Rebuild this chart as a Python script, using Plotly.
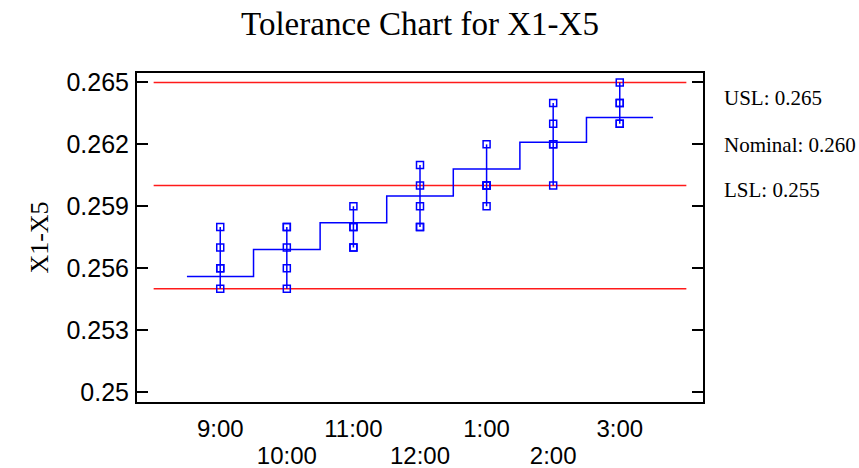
import plotly.graph_objects as go

times = ["9:00", "10:00", "11:00", "12:00", "1:00", "2:00", "3:00"]
X1 = [0.258, 0.258, 0.259, 0.261, 0.262, 0.264, 0.265]
X2 = [0.257, 0.258, 0.258, 0.260, 0.260, 0.263, 0.264]
X3 = [0.256, 0.257, 0.258, 0.259, 0.260, 0.262, 0.264]
X4 = [0.256, 0.256, 0.257, 0.258, 0.260, 0.262, 0.263]
X5 = [0.255, 0.255, 0.257, 0.258, 0.259, 0.260, 0.263]
trend = [0.2556, 0.2569, 0.2582, 0.2595, 0.2608, 0.2621, 0.2633]
USL, NOMINAL, LSL = 0.265, 0.260, 0.255
ytick_vals = [0.25, 0.253, 0.256, 0.259, 0.262, 0.265]
ytick_text = ["0.25", "0.253", "0.256", "0.259", "0.262", "0.265"]

BLUE = "#0000FF"
RED = "#FF1A1A"
n = len(times)
pos = list(range(1, n + 1))
cols = [X1, X2, X3, X4, X5]
xrange_ = [-0.25, n + 1.25]

fig = go.Figure()

# spec lines
for v in [USL, NOMINAL, LSL]:
    fig.add_trace(go.Scatter(x=[0, n + 1], y=[v, v], mode="lines",
                             line=dict(color=RED, width=1.5), hoverinfo="skip"))

# trend step line
sx = [pos[0] - 0.5] + pos + [pos[-1] + 0.5]
sy = [trend[0]] + trend + [trend[-1]]
fig.add_trace(go.Scatter(x=sx, y=sy, mode="lines", line=dict(color=BLUE, width=1.5, shape="hvh")))

# vertical range lines
vx, vy = [], []
for i, p in enumerate(pos):
    vals = [c[i] for c in cols]
    vx += [p, p, None]
    vy += [min(vals), max(vals), None]
fig.add_trace(go.Scatter(x=vx, y=vy, mode="lines", line=dict(color=BLUE, width=1.5)))

# points
px, py = [], []
for c in cols:
    px += pos
    py += c
fig.add_trace(go.Scatter(x=px, y=py, mode="markers",
                         marker=dict(symbol="square-open", size=7, color=BLUE,
                                     line=dict(color=BLUE, width=1.5))))

# invisible trace to carry second-row axis
fig.add_trace(go.Scatter(x=pos, y=trend, xaxis="x2", mode="markers",
                         marker=dict(opacity=0), hoverinfo="skip"))

odd_pos = pos[0::2]
odd_txt = times[0::2]
even_pos = pos[1::2]
even_txt = times[1::2]
tickfont = dict(family="Liberation Sans", size=24, color="black")

fig.update_layout(
    width=859, height=468,
    margin=dict(l=137, r=156, t=73, b=66),
    paper_bgcolor="white", plot_bgcolor="white",
    showlegend=False,
    title=dict(text="Tolerance Chart for X1-X5", x=0.5, xref="paper", y=1 - 23 / 468,
               yanchor="middle", xanchor="center",
               font=dict(family="Liberation Serif", size=33, color="black")),
    xaxis=dict(range=xrange_, tickvals=odd_pos, ticktext=odd_txt, showgrid=False, zeroline=False,
               showline=True, linecolor="black", linewidth=2, mirror=True, ticks="",
               ticklabelstandoff=4, automargin=False, tickfont=tickfont),
    xaxis2=dict(range=xrange_, overlaying="x", side="bottom", anchor="y",
                tickvals=even_pos, ticktext=even_txt, showgrid=False, zeroline=False,
                showline=False, ticks="", ticklabelstandoff=37, automargin=False,
                tickfont=tickfont),
    yaxis=dict(range=[0.24951, 0.26546], tickvals=ytick_vals, ticktext=ytick_text,
               showgrid=False, zeroline=False, showline=True, linecolor="black", linewidth=2,
               mirror="ticks", ticks="inside", ticklen=11, tickwidth=2, tickcolor="black",
               ticklabelstandoff=1, automargin=False,
               tickfont=dict(family="Liberation Sans", size=25, color="black"),
               title=dict(text="X1-X5", standoff=10,
                          font=dict(family="Liberation Serif", size=26, color="black"))),
)

labels = [("USL: 0.265", 98), ("Nominal: 0.260", 145), ("LSL: 0.255", 190)]
for txt, ypix in labels:
    fig.add_annotation(text=txt, xref="paper", yref="paper",
                       x=(722 - 137) / 566, y=(402 - ypix) / 329,
                       xanchor="left", yanchor="middle", showarrow=False,
                       font=dict(family="Liberation Serif", size=21, color="black"))

fig.write_html("out.html")
